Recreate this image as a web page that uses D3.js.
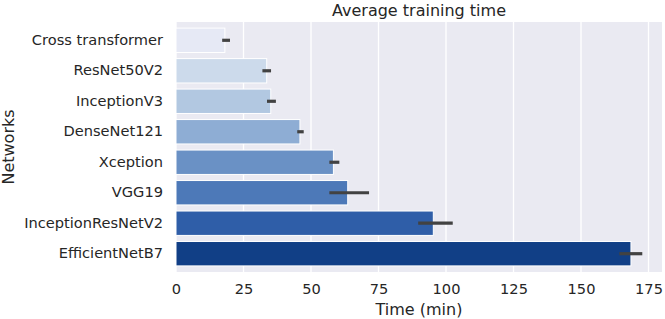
<!DOCTYPE html>
<html>
<head>
<meta charset="utf-8">
<script src="https://cdn.jsdelivr.net/npm/d3@7"></script>
<style>
  body { margin: 0; background: #fff; }
  svg { display: block; font-family: "DejaVu Sans", sans-serif; }
  .tick text { fill: #262626; }
</style>
</head>
<body>
<div id="chart"></div>
<script>
// Average training time per network (minutes), with error bars
const networks = ["Cross transformer", "ResNet50V2", "InceptionV3", "DenseNet121",
                  "Xception", "VGG19", "InceptionResNetV2", "EfficientNetB7"];
const meanTime = [18.1, 33.6, 35.1, 45.9, 58.3, 63.6, 95.3, 168.5];
const errLow   = [17.1, 32.0, 33.7, 44.9, 56.8, 56.8, 89.7, 164.2];
const errHigh  = [20.0, 35.2, 37.0, 47.3, 60.5, 71.5, 102.5, 172.7];
const xTicks   = [0, 25, 50, 75, 100, 125, 150, 175];
const barColors = ["#e6e9f5", "#ccdaeb", "#b2c8e1", "#8eadd4", "#6a91c5",
                   "#4d79b8", "#2f5ea8", "#113f86"];

const data = networks.map((name, i) => ({
  name, mean: meanTime[i], lo: errLow[i], hi: errHigh[i], color: barColors[i]
}));

const W = 665, H = 319;
const margin = { top: 22, right: 3, bottom: 47, left: 176 };
const width = W - margin.left - margin.right;
const height = H - margin.top - margin.bottom;

const svg = d3.select("#chart").append("svg")
  .attr("width", W).attr("height", H);

const g = svg.append("g")
  .attr("transform", `translate(${margin.left},${margin.top})`);

const x = d3.scaleLinear().domain([0, 180]).range([0, width]);
const y = d3.scaleBand().domain(networks).range([0, height]).padding(0.2);

g.append("rect")
  .attr("width", width).attr("height", height)
  .attr("fill", "#eaeaf2");

// vertical grid
g.selectAll(".grid")
  .data(xTicks)
  .join("line")
  .attr("x1", d => x(d)).attr("x2", d => x(d))
  .attr("y1", 0).attr("y2", height)
  .attr("stroke", "#fff").attr("stroke-width", 1.3);

g.selectAll(".bar")
  .data(data)
  .join("rect")
  .attr("class", "bar")
  .attr("x", 0)
  .attr("y", d => y(d.name))
  .attr("width", d => x(d.mean))
  .attr("height", y.bandwidth())
  .attr("fill", d => d.color)
  .attr("stroke", "#fff")
  .attr("stroke-width", 1);

g.selectAll(".err")
  .data(data)
  .join("line")
  .attr("x1", d => x(d.lo)).attr("x2", d => x(d.hi))
  .attr("y1", d => y(d.name) + y.bandwidth() / 2)
  .attr("y2", d => y(d.name) + y.bandwidth() / 2)
  .attr("stroke", "#424242")
  .attr("stroke-width", 3.2);

// axes
const yAxis = g.append("g")
  .call(d3.axisLeft(y).tickSize(0).tickPadding(13))
  .attr("font-family", "DejaVu Sans").attr("font-size", 14.6);
yAxis.select(".domain").remove();

const xAxis = g.append("g")
  .attr("transform", `translate(0,${height})`)
  .call(d3.axisBottom(x).tickValues(xTicks).tickSize(0).tickPadding(12))
  .attr("font-family", "DejaVu Sans").attr("font-size", 14.6);
xAxis.select(".domain").remove();

svg.append("text")
  .attr("x", margin.left + width / 2).attr("y", 16)
  .attr("text-anchor", "middle")
  .attr("font-size", 16).attr("fill", "#262626")
  .text("Average training time");

svg.append("text")
  .attr("x", margin.left + width / 2).attr("y", 315)
  .attr("text-anchor", "middle")
  .attr("font-size", 16).attr("fill", "#262626")
  .text("Time (min)");

svg.append("text")
  .attr("transform", `translate(14,${margin.top + height / 2}) rotate(-90)`)
  .attr("text-anchor", "middle")
  .attr("font-size", 16).attr("fill", "#262626")
  .text("Networks");
</script>
</body>
</html>
